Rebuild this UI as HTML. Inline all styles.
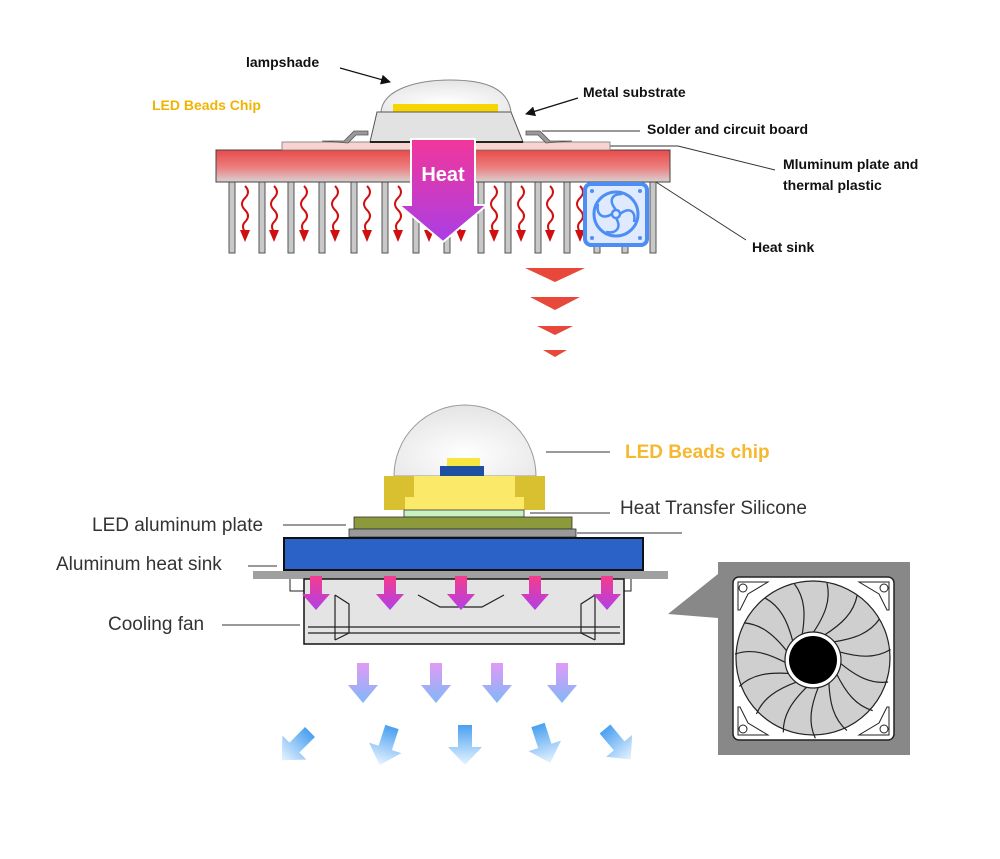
<!DOCTYPE html>
<html><head><meta charset="utf-8"><style>
html,body{margin:0;padding:0;background:#fff;}
svg{display:block;}
text{font-family:"Liberation Sans",Arial,sans-serif;}
</style></head><body>
<svg width="1000" height="859" viewBox="0 0 1000 859" xmlns="http://www.w3.org/2000/svg">
<defs>
<linearGradient id="red" x1="0" y1="0" x2="0" y2="1"><stop offset="0" stop-color="#e84a4a"/><stop offset="0.55" stop-color="#ec8080"/><stop offset="1" stop-color="#d8d0d0"/></linearGradient>
<linearGradient id="heat" x1="0" y1="0" x2="0" y2="1"><stop offset="0" stop-color="#f2379a"/><stop offset="1" stop-color="#a93ee6"/></linearGradient>
<linearGradient id="pk" x1="0" y1="0" x2="0" y2="1"><stop offset="0" stop-color="#f43c8c"/><stop offset="1" stop-color="#b040e8"/></linearGradient>
<linearGradient id="lb" x1="0" y1="0" x2="0" y2="1"><stop offset="0" stop-color="#e09af5"/><stop offset="1" stop-color="#80b8f8"/></linearGradient>
<linearGradient id="bl" x1="0" y1="0" x2="0" y2="1"><stop offset="0" stop-color="#4aa0f0"/><stop offset="1" stop-color="#e8f4ff"/></linearGradient>
<radialGradient id="dome" cx="0.5" cy="0.7" r="0.7"><stop offset="0" stop-color="#ffffff"/><stop offset="1" stop-color="#e4e4e4"/></radialGradient>
<marker id="ah" markerWidth="10" markerHeight="10" refX="9" refY="5" orient="auto" markerUnits="userSpaceOnUse"><path d="M0,0 L10,5 L0,10 z" fill="#111"/></marker>
<g id="wave"><path d="M0,0 q6,6 0,12 q-6,6 0,12 q6,6 0,12 q-4,4 0,10" fill="none" stroke="#d01010" stroke-width="2"/><path d="M-5,44 L5,44 L0,56 z" fill="#d01010"/></g>
<path id="pa" d="M-6,0 h12 v18 h8 l-14,16 l-14,-16 h8 z" fill="url(#pk)"/>
<path id="la" d="M-6,0 h12 v22 h9 l-15,18 l-15,-18 h9 z" fill="url(#lb)"/>
<path id="ba" d="M-7,0 h14 v22 h10 l-17,18 l-17,-18 h10 z" fill="url(#bl)"/>
<path id="blade" d="M0,-27 C 12,-45 18,-60 14,-77" fill="none" stroke="#222" stroke-width="1.2"/>
</defs>

<!-- TOP SECTION -->
<text x="246" y="67" font-size="14" font-weight="bold" fill="#111">lampshade</text>
<line x1="340" y1="68" x2="390" y2="82" stroke="#111" stroke-width="1.3" marker-end="url(#ah)"/>
<text x="152" y="110" font-size="14" font-weight="bold" fill="#f0b400">LED Beads Chip</text>
<text x="583" y="97" font-size="14" font-weight="bold" fill="#111">Metal substrate</text>
<line x1="578" y1="98" x2="526" y2="114" stroke="#111" stroke-width="1.3" marker-end="url(#ah)"/>
<text x="647" y="134" font-size="14" font-weight="bold" fill="#111">Solder and circuit board</text>
<line x1="542" y1="131" x2="640" y2="131" stroke="#333" stroke-width="1"/>
<text x="783" y="169" font-size="14" font-weight="bold" fill="#111">Mluminum plate and</text>
<text x="783" y="190" font-size="14" font-weight="bold" fill="#111">thermal plastic</text>
<polyline points="610,146 678,146 775,170" fill="none" stroke="#333" stroke-width="1"/>
<text x="752" y="252" font-size="14" font-weight="bold" fill="#111">Heat sink</text>
<line x1="656" y1="182" x2="746" y2="240" stroke="#333" stroke-width="1"/>

<!-- fins -->
<g fill="#c8c8c8" stroke="#555" stroke-width="1">
<rect x="229" y="182" width="6" height="71"/><rect x="259" y="182" width="6" height="71"/><rect x="288" y="182" width="6" height="71"/><rect x="319" y="182" width="6" height="71"/><rect x="351" y="182" width="6" height="71"/><rect x="382" y="182" width="6" height="71"/><rect x="413" y="182" width="6" height="71"/><rect x="444" y="182" width="6" height="71"/><rect x="478" y="182" width="6" height="71"/><rect x="505" y="182" width="6" height="71"/><rect x="535" y="182" width="6" height="71"/><rect x="564" y="182" width="6" height="71"/><rect x="594" y="182" width="6" height="71"/><rect x="622" y="182" width="6" height="71"/><rect x="650" y="182" width="6" height="71"/>
</g>
<g>
<use href="#wave" x="245" y="186"/><use href="#wave" x="274" y="186"/><use href="#wave" x="304" y="186"/><use href="#wave" x="335" y="186"/><use href="#wave" x="367" y="186"/><use href="#wave" x="398" y="186"/><use href="#wave" x="429" y="186"/><use href="#wave" x="461" y="186"/><use href="#wave" x="494" y="186"/><use href="#wave" x="521" y="186"/><use href="#wave" x="550" y="186"/><use href="#wave" x="580" y="186"/><use href="#wave" x="609" y="186"/><use href="#wave" x="637" y="186"/>
</g>

<!-- plates -->
<rect x="216" y="150" width="454" height="32" fill="url(#red)" stroke="#444" stroke-width="1"/>
<rect x="282" y="142" width="328" height="8" fill="#f8d4d0" stroke="#777" stroke-width="0.8"/>
<!-- legs -->
<path d="M322,141 h22 l10,-10 h14 v4 h-12 l-8,8 z" fill="#999" stroke="#555" stroke-width="0.8"/>
<path d="M572,141 h-22 l-10,-10 h-14 v4 h12 l8,8 z" fill="#999" stroke="#555" stroke-width="0.8"/>
<!-- dome & substrate -->
<path d="M381,112 C 383,88 420,80 450,80 C 485,80 508,88 511,112 z" fill="url(#dome)" stroke="#888" stroke-width="1"/>
<rect x="393" y="104" width="105" height="8" fill="#f7d500"/>
<path d="M377,112 L511,112 L523,142 L370,142 z" fill="#e2e2e2" stroke="#555" stroke-width="1"/>
<line x1="370" y1="142" x2="523" y2="142" stroke="#222" stroke-width="2"/>

<!-- heat arrow -->
<path d="M411,139 h64 v66 h12 l-44,37 l-44,-37 h12 z" fill="url(#heat)" stroke="#fff" stroke-width="2"/>
<text x="443" y="181" font-size="20" font-weight="bold" fill="#fff" text-anchor="middle">Heat</text>

<!-- fan icon -->
<rect x="585" y="184" width="62" height="61" rx="6" fill="#dfeaff" stroke="#4d8ef5" stroke-width="4"/>
<circle cx="616" cy="214" r="22" fill="none" stroke="#4d8ef5" stroke-width="3"/>
<circle cx="616" cy="214" r="4" fill="none" stroke="#4d8ef5" stroke-width="2.5"/>
<g fill="none" stroke="#4d8ef5" stroke-width="2.5">
<path d="M616,210 C 608,200 612,194 622,194"/><path d="M620,214 C 630,206 636,212 634,222"/><path d="M616,218 C 622,228 616,234 606,232"/><path d="M612,214 C 602,220 596,214 598,204"/>
</g>
<g fill="#4d8ef5"><circle cx="592" cy="191" r="2"/><circle cx="640" cy="191" r="2"/><circle cx="592" cy="238" r="2"/><circle cx="640" cy="238" r="2"/></g>

<!-- chevrons -->
<g fill="#e8483a">
<path d="M525,268 h60 l-30,14 z"/><path d="M530,297 h50 l-25,13 z"/><path d="M537,326 h36 l-18,9 z"/><path d="M543,350 h24 l-12,7 z"/>
</g>

<!-- BOTTOM SECTION -->
<path d="M394,476 A71,71 0 0 1 536,476 z" fill="url(#dome)" stroke="#999" stroke-width="1"/>
<rect x="447" y="458" width="33" height="9" fill="#f7e640"/>
<rect x="440" y="466" width="44" height="10" fill="#1e4fa0"/>
<rect x="384" y="476" width="161" height="34" fill="#fbe96a"/>
<path d="M384,476 h30 v21 h-9 v13 h-21 z" fill="#d8c030"/>
<path d="M545,476 h-30 v21 h9 v13 h21 z" fill="#d8c030"/>
<rect x="404" y="510" width="120" height="7" fill="#c8f0c0" stroke="#333" stroke-width="0.8"/>
<rect x="354" y="517" width="218" height="12" fill="#8c9a3c" stroke="#333" stroke-width="0.8"/>
<rect x="349" y="529" width="227" height="8" fill="#9a9a9a" stroke="#333" stroke-width="0.8"/>
<rect x="284" y="538" width="359" height="32" fill="#2a62c8" stroke="#111" stroke-width="2"/>
<rect x="253" y="571" width="415" height="8" fill="#a0a0a0"/>
<!-- fan side -->
<path d="M290,579 v12 h14 M631,579 v12 h-8" fill="none" stroke="#222" stroke-width="1"/>
<rect x="304" y="579" width="320" height="65" fill="#e4e4e4" stroke="#111" stroke-width="1.5"/>
<g fill="none" stroke="#222" stroke-width="1.2">
<line x1="308" y1="627" x2="620" y2="627"/><line x1="308" y1="633" x2="620" y2="633"/>
<path d="M335,595 v45 M335,595 l14,9 v29 l-14,7"/>
<path d="M595,595 v45 M595,595 l-14,9 v29 l14,7"/>
<path d="M418,595 l22,12 h42 l22,-12"/>
</g>
<g><use href="#pa" x="316" y="576"/><use href="#pa" x="390" y="576"/><use href="#pa" x="461" y="576"/><use href="#pa" x="535" y="576"/><use href="#pa" x="607" y="576"/></g>

<!-- labels bottom -->
<line x1="546" y1="452" x2="610" y2="452" stroke="#333" stroke-width="1"/>
<text x="625" y="458" font-size="19" font-weight="bold" fill="#f5b82e">LED Beads chip</text>
<line x1="530" y1="513" x2="610" y2="513" stroke="#333" stroke-width="1"/>
<text x="620" y="514" font-size="19" fill="#333">Heat Transfer Silicone</text>
<line x1="577" y1="533" x2="682" y2="533" stroke="#333" stroke-width="1"/>
<text x="92" y="531" font-size="19" fill="#333">LED aluminum plate</text>
<line x1="283" y1="525" x2="346" y2="525" stroke="#333" stroke-width="1"/>
<text x="56" y="570" font-size="19" fill="#333">Aluminum heat sink</text>
<line x1="248" y1="566" x2="277" y2="566" stroke="#333" stroke-width="1"/>
<text x="108" y="630" font-size="19" fill="#333">Cooling fan</text>
<line x1="222" y1="625" x2="300" y2="625" stroke="#333" stroke-width="1"/>

<!-- light arrows -->
<g><use href="#la" x="363" y="663"/><use href="#la" x="436" y="663"/><use href="#la" x="497" y="663"/><use href="#la" x="562" y="663"/></g>
<g>
<use href="#ba" transform="translate(310,732) rotate(45)"/>
<use href="#ba" transform="translate(392,727) rotate(18)"/>
<use href="#ba" transform="translate(465,725)"/>
<use href="#ba" transform="translate(538,725) rotate(-18)"/>
<use href="#ba" transform="translate(605,729) rotate(-40)"/>
</g>

<!-- fan detail -->
<path d="M668,614 L718,574 L718,618 z" fill="#888"/>
<rect x="718" y="562" width="192" height="193" fill="#888"/>
<rect x="733" y="577" width="161" height="163" rx="6" fill="#fff" stroke="#222" stroke-width="1.5"/>
<circle cx="813" cy="658" r="77" fill="#cfcfcf" stroke="#222" stroke-width="1.2"/>
<g transform="translate(813,660)">
<use href="#blade" transform="rotate(0)"/><use href="#blade" transform="rotate(24)"/><use href="#blade" transform="rotate(48)"/><use href="#blade" transform="rotate(72)"/><use href="#blade" transform="rotate(96)"/><use href="#blade" transform="rotate(120)"/><use href="#blade" transform="rotate(144)"/><use href="#blade" transform="rotate(168)"/><use href="#blade" transform="rotate(192)"/><use href="#blade" transform="rotate(216)"/><use href="#blade" transform="rotate(240)"/><use href="#blade" transform="rotate(264)"/><use href="#blade" transform="rotate(288)"/><use href="#blade" transform="rotate(312)"/><use href="#blade" transform="rotate(336)"/>
</g>
<circle cx="813" cy="660" r="28" fill="#fff" stroke="#222" stroke-width="1.2"/>
<circle cx="813" cy="660" r="24" fill="#000"/>
<g fill="#fff" stroke="#222" stroke-width="1">
<path d="M738,582 h30 l-20,12 l-8,16 h-2 z"/><circle cx="743" cy="588" r="4"/>
<path d="M889,582 h-30 l20,12 l8,16 h2 z"/><circle cx="884" cy="588" r="4"/>
<path d="M738,735 h30 l-20,-12 l-8,-16 h-2 z"/><circle cx="743" cy="729" r="4"/>
<path d="M889,735 h-30 l20,-12 l8,-16 h2 z"/><circle cx="884" cy="729" r="4"/>
</g>
</svg>
</body></html>
